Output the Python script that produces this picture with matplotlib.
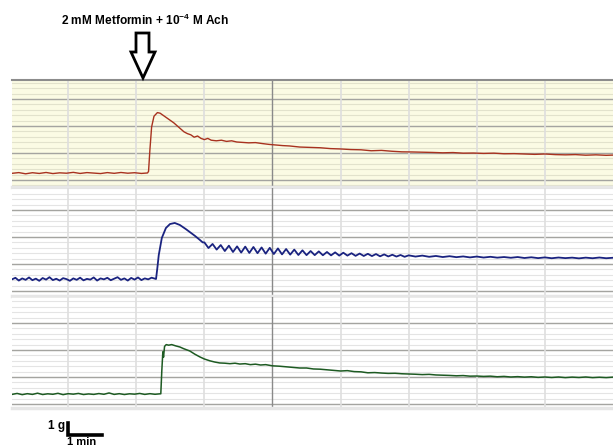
from matplotlib import pyplot as plt
from matplotlib.patches import Polygon
import numpy as np

plt.rcParams['font.family'] = ['Liberation Sans', 'DejaVu Sans']
plt.rcParams['mathtext.fontset'] = 'custom'
plt.rcParams['mathtext.rm'] = 'Liberation Sans:bold'
plt.rcParams['mathtext.it'] = 'Liberation Sans:bold'

# force traces: (time in min, tension in g)
red_trace = [
    (0.35, 1.14), (0.55, 1.20), (0.75, 1.10), (0.95, 1.19), (1.15, 1.13), (1.35, 1.21),
    (1.55, 1.12), (1.75, 1.18), (1.95, 1.15), (2.15, 1.22), (2.35, 1.13), (2.55, 1.20),
    (2.75, 1.16), (2.95, 1.12), (3.15, 1.20), (3.35, 1.14), (3.55, 1.21), (3.75, 1.15),
    (3.95, 1.19), (4.15, 1.13), (4.33, 1.17),
    (4.36, 1.30), (4.40, 3.10), (4.45, 5.00), (4.52, 5.90), (4.62, 6.20), (4.70, 6.15),
    (4.80, 5.95), (4.90, 5.75), (5.00, 5.55), (5.10, 5.35), (5.20, 5.10), (5.30, 4.85),
    (5.40, 4.60), (5.50, 4.45), (5.60, 4.35), (5.70, 4.15), (5.80, 4.25), (5.90, 4.05),
    (6.00, 3.95), (6.10, 4.05), (6.20, 3.90), (6.35, 3.85), (6.50, 3.90), (6.65, 3.80),
    (6.80, 3.85), (6.95, 3.75), (7.10, 3.72), (7.30, 3.68), (7.50, 3.70), (7.70, 3.62),
    (7.90, 3.55), (8.10, 3.50), (8.30, 3.45), (8.50, 3.42), (8.80, 3.33), (9.10, 3.30),
    (9.40, 3.27), (9.70, 3.20), (10.0, 3.17), (10.3, 3.12), (10.6, 3.10), (10.9, 3.02),
    (11.2, 3.05), (11.5, 2.98), (11.8, 2.93), (12.1, 2.92), (12.4, 2.90), (12.7, 2.88),
    (13.0, 2.85), (13.3, 2.87), (13.6, 2.82), (13.9, 2.83), (14.2, 2.80), (14.5, 2.82),
    (14.8, 2.77), (15.1, 2.78), (15.4, 2.75), (15.7, 2.72), (16.0, 2.75), (16.3, 2.70),
    (16.6, 2.68), (16.9, 2.70), (17.2, 2.65), (17.5, 2.68), (17.8, 2.64), (18.0, 2.66),
]

blue_trace = [
    (0.35, 1.22), (0.45, 1.35), (0.55, 1.12), (0.65, 1.30), (0.75, 1.18), (0.85, 1.38),
    (0.95, 1.15), (1.05, 1.28), (1.15, 1.10), (1.25, 1.33), (1.35, 1.20), (1.45, 1.40),
    (1.55, 1.16), (1.65, 1.27), (1.75, 1.12), (1.85, 1.32), (1.95, 1.24), (2.05, 1.10),
    (2.15, 1.30), (2.25, 1.18), (2.35, 1.36), (2.45, 1.14), (2.55, 1.26), (2.65, 1.20),
    (2.75, 1.38), (2.85, 1.12), (2.95, 1.30), (3.05, 1.22), (3.15, 1.35), (3.25, 1.15),
    (3.35, 1.28), (3.45, 1.40), (3.55, 1.18), (3.65, 1.30), (3.75, 1.12), (3.85, 1.34),
    (3.95, 1.20), (4.05, 1.38), (4.15, 1.16), (4.25, 1.30), (4.35, 1.22), (4.45, 1.36),
    (4.58, 1.25),
    (4.62, 2.20), (4.66, 3.25), (4.75, 4.67), (4.87, 5.50), (4.99, 5.83), (5.13, 5.92),
    (5.28, 5.75), (5.45, 5.42), (5.57, 5.17), (5.72, 4.85), (5.87, 4.50), (5.95, 4.30),
    (6.00, 4.30), (6.12, 3.83), (6.24, 4.17), (6.36, 3.70), (6.48, 4.08), (6.60, 3.58),
    (6.72, 4.03), (6.84, 3.50), (6.96, 3.97), (7.08, 3.45), (7.20, 3.95), (7.32, 3.42),
    (7.44, 3.92), (7.56, 3.40), (7.68, 3.88), (7.80, 3.36), (7.92, 3.85), (8.04, 3.33),
    (8.16, 3.80), (8.28, 3.30), (8.40, 3.75), (8.52, 3.28), (8.64, 3.70), (8.76, 3.25),
    (8.88, 3.64), (9.00, 3.24), (9.12, 3.58), (9.24, 3.24), (9.36, 3.55), (9.48, 3.23),
    (9.60, 3.50), (9.72, 3.22), (9.84, 3.47), (9.96, 3.20), (10.08, 3.44), (10.20, 3.20),
    (10.32, 3.40), (10.44, 3.18), (10.56, 3.37), (10.68, 3.17), (10.80, 3.35), (10.92, 3.16),
    (11.04, 3.33), (11.16, 3.14), (11.28, 3.30), (11.40, 3.13), (11.52, 3.27), (11.64, 3.12),
    (11.76, 3.25), (11.88, 3.10), (12.00, 3.22),
    (12.2, 3.12), (12.4, 3.20), (12.6, 3.10), (12.8, 3.17), (13.0, 3.08), (13.2, 3.15),
    (13.4, 3.07), (13.6, 3.13), (13.8, 3.05), (14.0, 3.12), (14.2, 3.04), (14.4, 3.10),
    (14.6, 3.03), (14.8, 3.08), (15.0, 3.02), (15.2, 3.08), (15.4, 3.00), (15.6, 3.06),
    (15.8, 2.99), (16.0, 3.05), (16.2, 2.98), (16.4, 3.04), (16.6, 2.99), (16.8, 3.03),
    (17.0, 2.97), (17.2, 3.03), (17.4, 2.98), (17.6, 3.04), (17.8, 2.98), (18.0, 3.02),
]

green_trace = [
    (0.35, 0.80), (0.50, 0.88), (0.65, 0.78), (0.80, 0.86), (0.95, 0.80), (1.10, 0.90),
    (1.25, 0.79), (1.40, 0.85), (1.55, 0.81), (1.70, 0.89), (1.85, 0.78), (2.00, 0.86),
    (2.15, 0.82), (2.30, 0.88), (2.45, 0.79), (2.60, 0.84), (2.75, 0.80), (2.90, 0.87),
    (3.05, 0.81), (3.20, 0.92), (3.35, 0.80), (3.50, 0.86), (3.65, 0.79), (3.80, 0.85),
    (3.95, 0.82), (4.10, 0.88), (4.25, 0.80), (4.40, 0.86), (4.55, 0.81), (4.70, 0.85),
    (4.72, 0.85), (4.75, 2.80), (4.78, 4.35), (4.80, 3.90), (4.83, 4.80), (4.88, 4.95),
    (4.95, 4.90), (5.04, 4.95), (5.15, 4.85), (5.28, 4.75), (5.40, 4.60), (5.57, 4.42),
    (5.72, 4.15), (5.87, 3.92), (6.00, 3.75), (6.16, 3.60), (6.30, 3.50), (6.45, 3.42),
    (6.60, 3.40), (6.75, 3.36), (6.90, 3.40), (7.04, 3.33), (7.20, 3.36), (7.35, 3.28),
    (7.50, 3.32), (7.65, 3.25), (7.80, 3.28), (8.00, 3.18), (8.20, 3.15), (8.40, 3.10),
    (8.60, 3.05), (8.80, 3.00), (9.00, 3.00), (9.20, 2.92), (9.40, 2.90), (9.60, 2.85),
    (9.80, 2.80), (10.0, 2.75), (10.2, 2.78), (10.4, 2.70), (10.6, 2.68), (10.8, 2.60),
    (11.0, 2.62), (11.2, 2.58), (11.4, 2.55), (11.6, 2.56), (11.8, 2.52), (12.0, 2.50),
    (12.2, 2.48), (12.4, 2.45), (12.6, 2.47), (12.8, 2.42), (13.0, 2.40), (13.2, 2.38),
    (13.4, 2.35), (13.6, 2.37), (13.8, 2.32), (14.0, 2.33), (14.2, 2.30), (14.4, 2.32),
    (14.6, 2.27), (14.8, 2.30), (15.0, 2.25), (15.2, 2.28), (15.4, 2.24), (15.6, 2.27),
    (15.8, 2.22), (16.0, 2.25), (16.2, 2.21), (16.4, 2.25), (16.6, 2.20), (16.8, 2.24),
    (17.0, 2.21), (17.2, 2.25), (17.4, 2.20), (17.6, 2.23), (17.8, 2.20), (18.0, 2.24),
]

trace_colors = ['#a8321f', '#1a2380', '#1d5a22']
trace_widths = [1.0, 1.3, 1.1]
annotation = r'2 mM Metformin + 10$^{-4}$ M Ach'
time_marks = [2, 4, 6, 8, 10, 12, 14, 16]

W, H = 613, 446
fig = plt.figure(figsize=(W / 100, H / 100), dpi=100)

# (top px, bottom px, y of first major line in g, background)
panels = [
    (80, 187, 0.58, '#fbfbe4'),
    (188, 296, 0.25, 'white'),
    (297, 408, 0.00, 'white'),
]
traces = [red_trace, blue_trace, green_trace]

axes = []
for i, (top, bot, base, bg) in enumerate(panels):
    ax = fig.add_axes([12 / W, 1 - bot / H, 1 - 12 / W, (bot - top) / H])
    zero_px = [187, 294, 404][i]
    ax.set_xlim(0.35, 18.0)
    ax.set_ylim(-(bot - zero_px) / 12, (zero_px - top) / 12)
    ax.set_facecolor(bg)

    # recorder chart grid
    minor_col = '#e2e2cc' if i == 0 else '#e4e4e4'
    for y in np.arange(base - 0.45 * 2, 9.5, 0.45):
        ax.axhline(y, color=minor_col, lw=0.8, zorder=1)
    for y in np.arange(base, 9.5, 2.25):
        ax.axhline(y, color='#a4a4a0', lw=1.0, zorder=1)
    for x in time_marks:
        if x == 8:
            ax.axvline(x, color='#8a8a8a', lw=1.0, zorder=2)
        else:
            ax.axvline(x, color='#dedede', lw=1.2, zorder=2)

    t, g = zip(*traces[i])
    ax.plot(t, g, color=trace_colors[i], lw=trace_widths[i], zorder=3)

    ax.set_xticks([])
    ax.set_yticks([])
    for s in ['left', 'right', 'top']:
        ax.spines[s].set_visible(False)
    ax.spines['bottom'].set_color('#e6e6e6')
    ax.spines['bottom'].set_linewidth(2.5)
    if i == 0:
        ax.spines['top'].set_visible(True)
        ax.spines['top'].set_color('#8c8c8c')
        ax.spines['top'].set_linewidth(1.5)
    axes.append(ax)

# drug addition label and hollow arrow
fig.text(145 / W, 1 - 20 / H, annotation, ha='center', va='center',
         fontsize=8.6, fontweight='bold')
arrow_px = [(136, 33), (149, 33), (149, 52), (155, 52), (143, 78),
            (131, 52), (136, 52)]
arrow = Polygon([(x / W, 1 - y / H) for x, y in arrow_px], closed=True,
                transform=fig.transFigure, facecolor='white', edgecolor='black',
                lw=2.0, joinstyle='miter')
fig.patches.append(arrow)

# scale bar: 1 g / 1 min, in the bottom trace's units
ax = axes[2]
ax.plot([2.0, 2.0, 3.0], [-1.55, -2.58, -2.58], color='black', lw=2.6,
        clip_on=False, solid_joinstyle='miter')
fig.text(65 / W, 1 - 426 / H, '1 g', ha='right', va='center',
         fontsize=8.5, fontweight='bold')
fig.text(82 / W, 1 - 442 / H, '1 min', ha='center', va='center',
         fontsize=8, fontweight='bold')

fig.savefig('out.png', dpi=100, facecolor='white')
